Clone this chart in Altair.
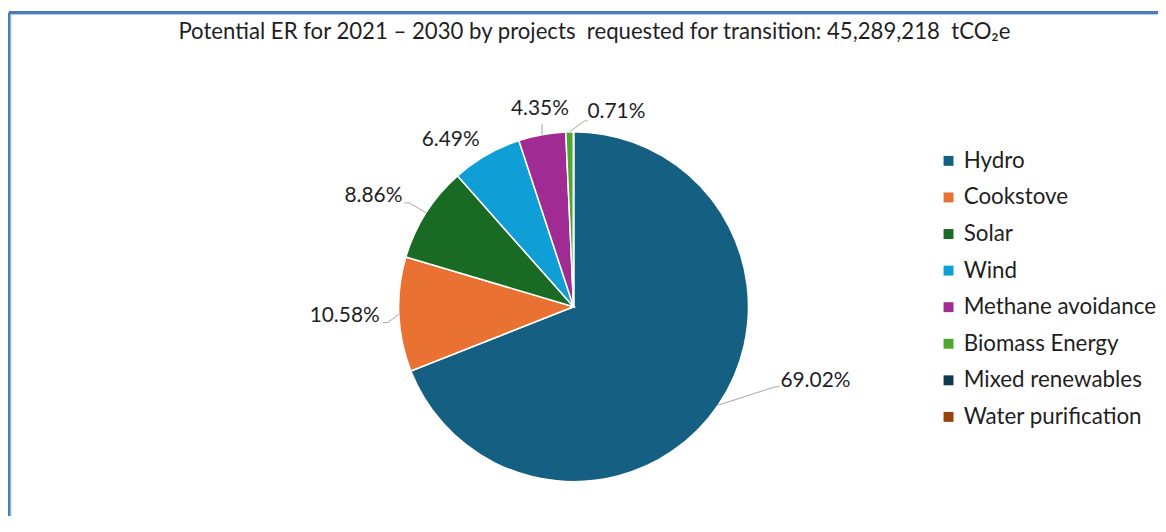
import math
import altair as alt
import pandas as pd

# ---- data ----
categories = ["Hydro", "Cookstove", "Solar", "Wind", "Methane avoidance",
              "Biomass Energy", "Mixed renewables", "Water purification"]
shares = [69.02, 10.58, 8.86, 6.49, 4.35, 0.71, 0.0, 0.0]
title_text = "Potential ER for 2021 – 2030 by projects \u00a0requested for transition: 45,289,218 \u00a0tCO₂e"

# ---- styles ----
colors = ["#156082", "#e97132", "#196b24", "#0f9ed5", "#a02b93",
          "#4ea72e", "#0e3a50", "#99400f"]
FONT = "Lato"
TEXT_COLOR = "#1f1f1f"
CX, CY, R = 568, 296, 176          # pie centre / radius (chart coords)
W, H = 1150, 501

# leader line: elbow offset from slice edge, horizontal tail length
LEADER = {
    "Hydro": (57.6, -18.5, 4),
    "Cookstove": (-11.2, 8.2, -5),
    "Solar": (-16.7, -9.9, -5),
    "Methane avoidance": (0.0, -11.0, 0),
    "Biomass Energy": (15.0, -11.0, 3),
}
# label anchor offset from slice edge and alignment
LABEL = {
    "Hydro": (62.6, -24.5, "left"),
    "Cookstove": (-19.2, 1.7, "right"),
    "Solar": (-23.7, -16.9, "right"),
    "Wind": (-6.8, -15.6, "right"),
    "Methane avoidance": (-2.1, -25.4, "center"),
    "Biomass Energy": (17.9, -20.0, "left"),
}

df = pd.DataFrame({"category": categories, "share": shares,
                   "idx": list(range(len(categories)))})

# label geometry derived from the shares (mid-angle of each slice)
total = sum(shares)
rows, segs = [], []
cum = 0.0
for c, s in zip(categories, shares):
    mid = 2 * math.pi * (cum + s / 2) / total
    cum += s
    if s <= 0:
        continue
    ex, ey = CX + R * math.sin(mid), CY - R * math.cos(mid)
    if c in LABEL:
        dx, dy, al = LABEL[c]
        rows.append({"category": c, "label": f"{s:.2f}%", "lx": ex + dx,
                     "ly": ey + dy, "align": al})
    if c in LEADER:
        bx, by, t = LEADER[c]
        segs.append({"x": ex, "y": ey, "x2": ex + bx, "y2": ey + by})
        if t:
            segs.append({"x": ex + bx, "y": ey + by, "x2": ex + bx + t, "y2": ey + by})
labels = pd.DataFrame(rows)
leaders = pd.DataFrame(segs)

color = alt.Color(
    "category:N",
    scale=alt.Scale(domain=categories, range=colors),
    sort=categories,
    legend=alt.Legend(
        orient="none", legendX=934, legendY=138, title=None,
        symbolType="square", symbolSize=100, symbolStrokeWidth=0,
        labelFont=FONT, labelFontSize=22.5, labelColor=TEXT_COLOR,
        labelOffset=4, rowPadding=13.8, padding=0, labelLimit=400,
    ),
)

pie = alt.Chart(df).mark_arc(radius=R, stroke="white", strokeWidth=1.5).encode(
    theta=alt.Theta("share:Q", stack=True),
    color=color,
    order=alt.Order("idx:Q"),
    x=alt.value(CX),
    y=alt.value(CY),
)

lead = alt.Chart(leaders).mark_rule(color="#a6a6a6", strokeWidth=1).encode(
    x=alt.X("x:Q", scale=None, axis=None),
    y=alt.Y("y:Q", scale=None, axis=None),
    x2="x2:Q",
    y2="y2:Q",
)

text_layers = []
for al in ["left", "right", "center"]:
    text_layers.append(
        alt.Chart(labels).transform_filter(alt.datum.align == al)
        .mark_text(align=al, baseline="middle", font=FONT, fontSize=21,
                   color=TEXT_COLOR)
        .encode(
            x=alt.X("lx:Q", scale=None, axis=None),
            y=alt.Y("ly:Q", scale=None, axis=None),
            text="label:N",
        )
    )

frame_df = pd.DataFrame({"k": [0]})
border_left = alt.Chart(frame_df).mark_rule(color="#4a7ebb", strokeWidth=3).encode(
    x=alt.value(0), y=alt.value(0), y2=alt.value(H + 20))
border_top = alt.Chart(frame_df).mark_rule(color="#4a7ebb", strokeWidth=3).encode(
    x=alt.value(0), x2=alt.value(W + 20), y=alt.value(0))
inner_left = alt.Chart(frame_df).mark_rule(color="#b9cfea", strokeWidth=1).encode(
    x=alt.value(2), y=alt.value(2), y2=alt.value(H + 20))
inner_top = alt.Chart(frame_df).mark_rule(color="#b9cfea", strokeWidth=1).encode(
    x=alt.value(2), x2=alt.value(W + 20), y=alt.value(2))

chart = alt.layer(
    inner_left, inner_top, border_left, border_top, pie, lead, *text_layers
).properties(
    width=W, height=H,
    padding={"left": 1, "top": 3, "right": 6, "bottom": 4},
    autosize=alt.AutoSizeParams(type="none"),
    title=alt.TitleParams(
        text=title_text, font=FONT, fontSize=22.3, fontWeight="normal",
        color=TEXT_COLOR, anchor="middle", dx=14, dy=36,
    ),
).resolve_scale(x="independent", y="independent").configure_view(stroke=None)

chart.save("out.html", embed_options={"renderer": "svg", "actions": False})
